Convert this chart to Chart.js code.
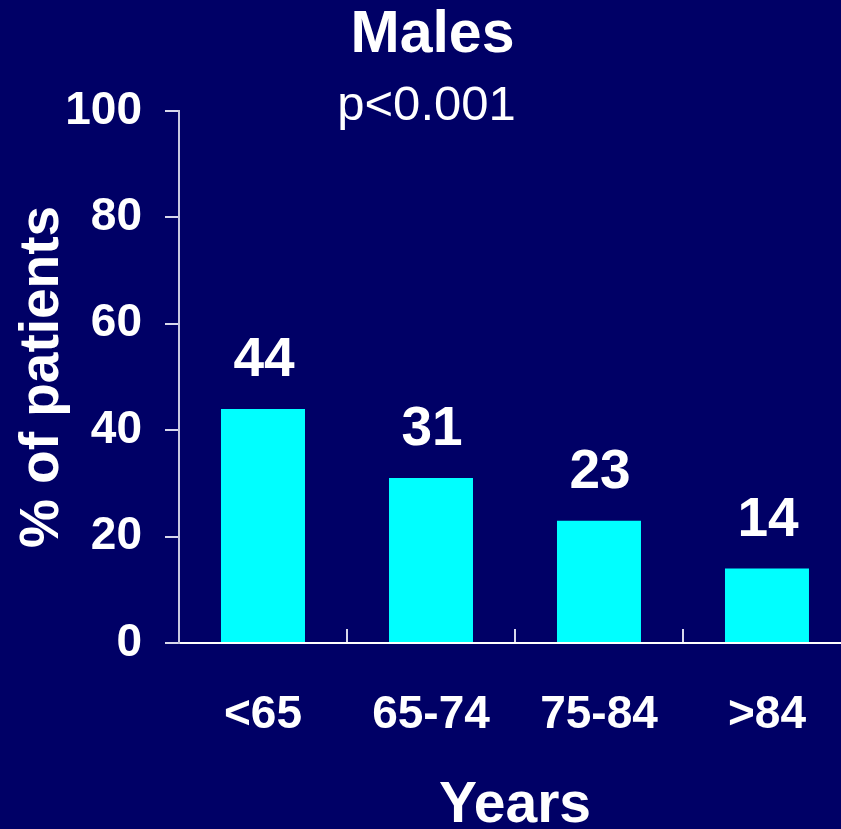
<!DOCTYPE html>
<html lang="en">
<head>
    <meta charset="UTF-8">
    <title>Males - % of patients by age</title>
    <script src="https://cdn.jsdelivr.net/npm/chart.js"></script>
    <style>
        html, body {
            margin: 0;
            padding: 0;
            background: #000066;
            overflow: hidden;
        }
        #chartBox {
            width: 865px;
            height: 845px;
        }
    </style>
</head>
<body>
    <div id="chartBox">
        <canvas id="malesChart" width="865" height="845"></canvas>
    </div>

    <script>
        // Chart data
        const ageGroups = ['<65', '65-74', '75-84', '>84'];
        const malePercent = [44, 31, 23, 14];
        const yTickValues = [0, 20, 40, 60, 80, 100];
        const chartTitle = 'Males';
        const chartSubtitle = 'p<0.001';

        const fontFamily = '"Liberation Sans", Arial, sans-serif';

        // Value labels above each bar
        const barValueLabels = {
            id: 'barValueLabels',
            afterDatasetsDraw(chart) {
                const ctx = chart.ctx;
                const meta = chart.getDatasetMeta(0);
                ctx.save();
                ctx.fillStyle = '#ffffff';
                ctx.font = 'bold 55px ' + fontFamily;
                ctx.textAlign = 'center';
                ctx.textBaseline = 'alphabetic';
                meta.data.forEach((bar, i) => {
                    ctx.fillText(String(chart.data.datasets[0].data[i]), bar.x + 1, bar.y - 33);
                });
                ctx.restore();
            }
        };

        // p-value line under the title, sits inside the plot area
        const pValueText = {
            id: 'pValueText',
            afterDraw(chart) {
                const ctx = chart.ctx;
                ctx.save();
                ctx.fillStyle = '#ffffff';
                ctx.font = '49px ' + fontFamily;
                ctx.textAlign = 'center';
                ctx.textBaseline = 'alphabetic';
                ctx.fillText(chartSubtitle, chart.width / 2 - 6, chart.chartArea.top + 9);
                ctx.restore();
            }
        };

        new Chart(document.getElementById('malesChart').getContext('2d'), {
            type: 'bar',
            data: {
                labels: ageGroups,
                datasets: [{
                    data: malePercent,
                    backgroundColor: '#00ffff',
                    borderWidth: 0,
                    barPercentage: 0.5,
                    categoryPercentage: 1.0
                }]
            },
            options: {
                responsive: false,
                animation: false,
                layout: { padding: 0 },
                plugins: {
                    legend: { display: false },
                    tooltip: { enabled: false },
                    title: {
                        display: true,
                        text: chartTitle,
                        color: '#ffffff',
                        font: { family: fontFamily, size: 59, weight: 'bold', lineHeight: 1 },
                        padding: { top: 6, bottom: 46 }
                    }
                },
                scales: {
                    x: {
                        afterFit(scale) { scale.height = 845 - 643; },
                        border: { color: '#ffffff', width: 2 },
                        grid: {
                            offset: true,
                            drawOnChartArea: false,
                            drawTicks: true,
                            tickLength: -14,
                            color: '#d8d8ec',
                            lineWidth: 2
                        },
                        ticks: {
                            color: '#ffffff',
                            font: { family: fontFamily, size: 46, weight: 'bold' },
                            padding: 59,
                            maxRotation: 0
                        },
                        title: {
                            display: true,
                            text: 'Years',
                            color: '#ffffff',
                            font: { family: fontFamily, size: 57, weight: 'bold', lineHeight: 1 },
                            padding: { top: 0, bottom: 10 }
                        }
                    },
                    y: {
                        min: 0,
                        max: 100,
                        afterFit(scale) { scale.width = 179; },
                        afterBuildTicks(scale) {
                            scale.ticks = yTickValues.map(v => ({ value: v }));
                        },
                        border: { color: '#c8c8e0', width: 2 },
                        grid: {
                            drawOnChartArea: false,
                            drawTicks: true,
                            tickLength: 14,
                            color: '#d8d8ec',
                            lineWidth: 2
                        },
                        ticks: {
                            color: '#ffffff',
                            font: { family: fontFamily, size: 46, weight: 'bold' },
                            padding: 23
                        },
                        title: {
                            display: true,
                            text: '% of patients',
                            color: '#ffffff',
                            font: { family: fontFamily, size: 55, weight: 'bold', lineHeight: 1 },
                            padding: { top: 15, bottom: 0 }
                        }
                    }
                }
            },
            plugins: [barValueLabels, pValueText]
        });
    </script>
</body>
</html>
